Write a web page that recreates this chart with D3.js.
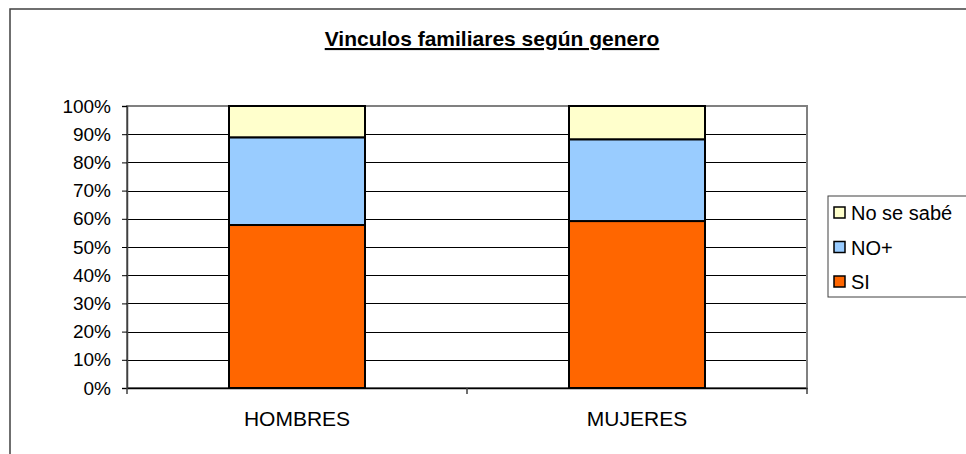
<!DOCTYPE html>
<html lang="es">
<head>
<meta charset="UTF-8">
<title>Vinculos familiares según genero</title>
<script src="https://d3js.org/d3.v7.min.js"></script>
<style>
  body { margin: 0; background: #fff; }
  text { font-family: "Liberation Sans", Arial, sans-serif; }
</style>
</head>
<body>
<script>
// data
var categories = ["HOMBRES", "MUJERES"];
var series = ["SI", "NO+", "No se sabé"];
var valuesSI = [57.8, 59.2];
var valuesNO = [31.1, 29.0];
var valuesNS = [11.1, 11.8];
var yTicks = [0, 10, 20, 30, 40, 50, 60, 70, 80, 90, 100];
var colors = ["#ff6600", "#99ccff", "#ffffcc"];

var W = 966, H = 454;
var plot = {left: 127, right: 807, top: 106, bottom: 388};

var svg = d3.select("body").append("svg")
    .attr("width", W)
    .attr("height", H);

// outer chart border (runs off the right and bottom edges)
svg.append("rect")
    .attr("x", 10).attr("y", 9)
    .attr("width", W + 20).attr("height", H + 20)
    .attr("fill", "#fff")
    .attr("stroke", "#404040")
    .attr("stroke-width", 1.5);

// title
svg.append("text")
    .attr("x", 492).attr("y", 46)
    .attr("text-anchor", "middle")
    .style("font-size", "21px")
    .style("font-weight", "bold")
    .style("text-decoration", "underline")
    .text("Vinculos familiares según genero");

var x = d3.scaleBand()
    .domain(categories)
    .range([plot.left, plot.right])
    .paddingInner(0)
    .paddingOuter(0);

var y = d3.scaleLinear()
    .domain([0, 100])
    .range([plot.bottom, plot.top]);

// gridlines
svg.append("g")
    .selectAll("line")
    .data(yTicks.slice(1))
    .enter().append("line")
    .attr("x1", plot.left).attr("x2", plot.right)
    .attr("y1", d => Math.round(y(d)) + 0.5)
    .attr("y2", d => Math.round(y(d)) + 0.5)
    .attr("stroke", "#000")
    .attr("stroke-width", 1);

// plot area border
svg.append("rect")
    .attr("x", plot.left).attr("y", plot.top)
    .attr("width", plot.right - plot.left)
    .attr("height", plot.bottom - plot.top)
    .attr("fill", "none")
    .attr("stroke", "#808080")
    .attr("stroke-width", 2);

// stacked bars
var table = categories.map((c, i) => ({cat: c, SI: valuesSI[i], "NO+": valuesNO[i], "No se sabé": valuesNS[i]}));
var stacked = d3.stack().keys(series)(table);
var barW = x.bandwidth() / 2.5;

svg.append("g")
    .selectAll("g")
    .data(stacked)
    .enter().append("g")
    .attr("fill", (d, i) => colors[i])
    .selectAll("rect")
    .data(d => d)
    .enter().append("rect")
    .attr("x", d => x(d.data.cat) + x.bandwidth() / 2 - barW / 2)
    .attr("y", d => y(d[1]))
    .attr("width", barW)
    .attr("height", d => y(d[0]) - y(d[1]))
    .attr("stroke", "#000")
    .attr("stroke-width", 2);

// y axis
var yAxis = svg.append("g")
    .attr("transform", "translate(" + plot.left + ",0)")
    .call(d3.axisLeft(y).tickValues(yTicks).tickSize(5).tickPadding(11).tickFormat(d => d + "%"));
yAxis.select(".domain").attr("stroke", "#404040").attr("stroke-width", 1.5);
yAxis.selectAll(".tick line").attr("stroke", "#000");
yAxis.selectAll("text").style("font-size", "19px").attr("fill", "#000")
    .style("font-family", "Liberation Sans, Arial, sans-serif");

// x axis
var xAxis = svg.append("g")
    .attr("transform", "translate(0," + plot.bottom + ")")
    .call(d3.axisBottom(x).tickSize(0).tickPadding(23));
xAxis.select(".domain").attr("stroke", "#000").attr("stroke-width", 1.5);
xAxis.selectAll("text").style("font-size", "21px").attr("fill", "#000")
    .style("font-family", "Liberation Sans, Arial, sans-serif");

// category separator ticks
svg.append("g")
    .selectAll("line")
    .data([plot.left, x(categories[1]), plot.right])
    .enter().append("line")
    .attr("x1", d => d).attr("x2", d => d)
    .attr("y1", plot.bottom).attr("y2", plot.bottom + 6)
    .attr("stroke", "#404040")
    .attr("stroke-width", 1.5);

// legend
var legend = svg.append("g");
legend.append("rect")
    .attr("x", 828).attr("y", 196)
    .attr("width", 160).attr("height", 101)
    .attr("fill", "#fff")
    .attr("stroke", "#404040")
    .attr("stroke-width", 1);

var legendOrder = series.slice().reverse();
var legendRows = legend.selectAll("g.row")
    .data(legendOrder)
    .enter().append("g")
    .attr("class", "row")
    .attr("transform", (d, i) => "translate(834," + (213 + i * 34.5) + ")");

legendRows.append("rect")
    .attr("x", 0).attr("y", -6)
    .attr("width", 11).attr("height", 11)
    .attr("fill", d => colors[series.indexOf(d)])
    .attr("stroke", "#000")
    .attr("stroke-width", 1.5);

legendRows.append("text")
    .attr("x", 17).attr("y", 7)
    .style("font-size", "20px")
    .text(d => d);
</script>
</body>
</html>
